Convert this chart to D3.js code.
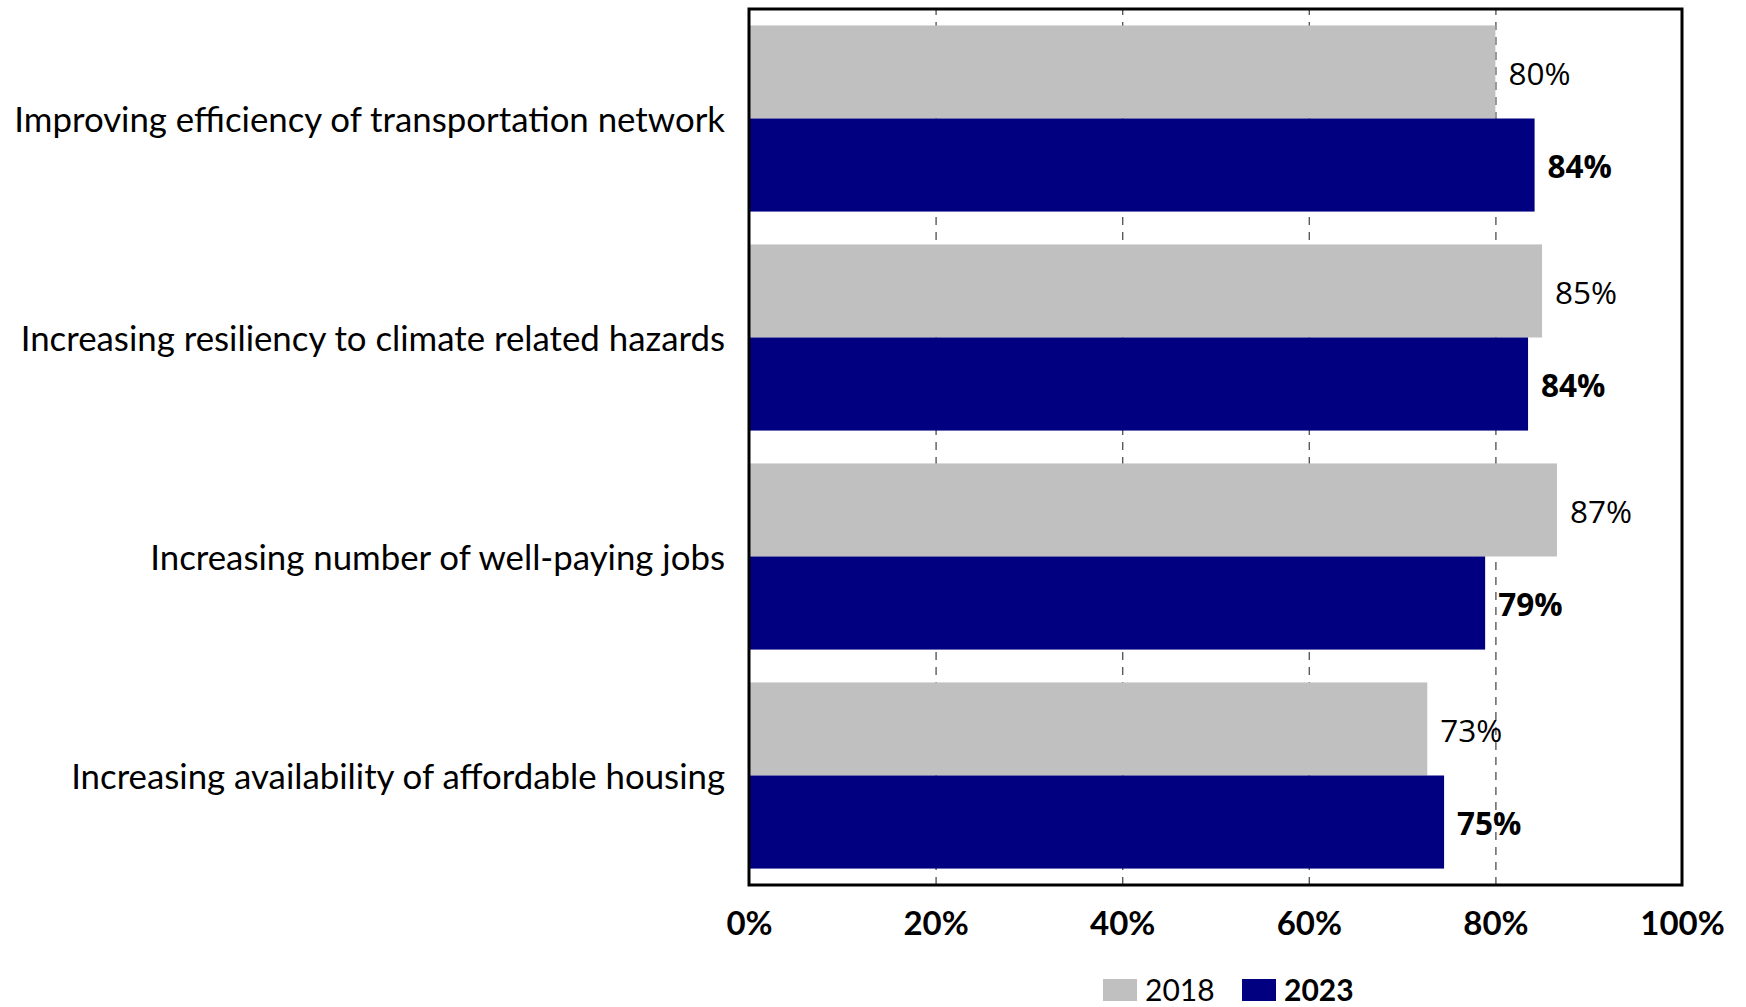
<!DOCTYPE html>
<html>
<head>
<meta charset="utf-8">
<script src="https://cdn.jsdelivr.net/npm/d3@7"></script>
<style>
  html, body { margin: 0; padding: 0; background: #ffffff; }
  svg { display: block; }
</style>
</head>
<body>
<svg id="chart" width="1746" height="1007"></svg>
<script>
// ---- data ----
const categories = [
  "Improving efficiency of transportation network",
  "Increasing resiliency to climate related hazards",
  "Increasing number of well-paying jobs",
  "Increasing availability of affordable housing"
];
const seriesNames = ["2018", "2023"];
const values2018 = [80.0, 85.0, 86.6, 72.7];
const values2023 = [84.2, 83.5, 78.9, 74.5];
const xTickValues = [0, 20, 40, 60, 80, 100];
const gridTickValues = [20, 40, 60, 80];

// ---- layout / style ----
const W = 1746, H = 1007;
const plot = { left: 749, right: 1682, top: 9, bottom: 885 };
const colors = { "2018": "#c0c0c0", "2023": "#000080" };
const catFont = "Lato, 'Open Sans', sans-serif";
const lblFont = "'Open Sans', 'Noto Sans', sans-serif";

const svg = d3.select("#chart");
svg.append("rect").attr("width", W).attr("height", H).attr("fill", "#fff");

const x = d3.scaleLinear().domain([0, 100]).range([plot.left, plot.right]);
const y = d3.scaleBand().domain(categories).range([plot.top, plot.bottom])
  .paddingInner(0.15).paddingOuter(0.075);
const ySub = d3.scaleBand().domain(seriesNames).range([0, y.bandwidth()]);

// gridlines
const grid = svg.append("g")
  .attr("transform", `translate(0,${plot.bottom})`)
  .call(d3.axisBottom(x).tickValues(gridTickValues)
    .tickSize(-(plot.bottom - plot.top)).tickFormat(""));
grid.select(".domain").remove();
grid.selectAll(".tick line")
  .attr("stroke", "#5a5a5a").attr("stroke-width", 1.4)
  .attr("stroke-dasharray", "8,7");

// bars
const rows = categories.map((c, i) => ({ cat: c, vals: { "2018": values2018[i], "2023": values2023[i] } }));
const groups = svg.append("g").selectAll("g").data(rows).join("g")
  .attr("transform", d => `translate(0,${y(d.cat)})`);

groups.selectAll("rect").data(d => seriesNames.map(s => ({ s, v: d.vals[s] })))
  .join("rect")
  .attr("x", x(0))
  .attr("y", d => ySub(d.s))
  .attr("width", d => x(d.v) - x(0))
  .attr("height", ySub.bandwidth())
  .attr("fill", d => colors[d.s]);

// data labels
const lblSize = 31.5;
groups.selectAll("text.val").data(d => seriesNames.map(s => ({ s, v: d.vals[s] })))
  .join("text")
  .attr("class", "val")
  .attr("x", d => x(d.v) + 13)
  .attr("y", d => ySub(d.s) + ySub.bandwidth() / 2 + lblSize * 0.357 + 2)
  .attr("font-family", lblFont)
  .attr("font-size", lblSize)
  .attr("font-weight", d => d.s === "2023" ? 700 : 400)
  .attr("fill", "#000")
  .text(d => Math.round(d.v) + "%");

// category labels
const catSize = 34.8;
svg.append("g").selectAll("text").data(categories).join("text")
  .attr("x", 725)
  .attr("y", d => y(d) + y.bandwidth() / 2 + 13)
  .attr("text-anchor", "end")
  .attr("font-family", catFont)
  .attr("font-size", catSize)
  .attr("fill", "#000")
  .text(d => d);

// plot border
svg.append("rect")
  .attr("x", plot.left).attr("y", plot.top)
  .attr("width", plot.right - plot.left).attr("height", plot.bottom - plot.top)
  .attr("fill", "none").attr("stroke", "#000").attr("stroke-width", 3);

// x axis labels
const xAxis = svg.append("g")
  .attr("transform", `translate(0,${plot.bottom})`)
  .call(d3.axisBottom(x).tickValues(xTickValues).tickSize(0).tickFormat(d => d + "%"));
xAxis.select(".domain").remove();
xAxis.selectAll(".tick text")
  .attr("y", 50).attr("dy", 0)
  .attr("font-family", catFont)
  .attr("font-size", 33)
  .attr("font-weight", 700)
  .attr("fill", "#000");

// legend
const legend = svg.append("g");
const legendItems = [
  { s: "2018", rx: 1103, tx: 1145, weight: 400 },
  { s: "2023", rx: 1242, tx: 1284, weight: 700 }
];
legendItems.forEach(it => {
  legend.append("rect").attr("x", it.rx).attr("y", 979).attr("width", 34).attr("height", 22)
    .attr("fill", colors[it.s]);
  legend.append("text").attr("x", it.tx).attr("y", 1001)
    .attr("font-family", catFont).attr("font-size", 30).attr("font-weight", it.weight)
    .attr("fill", "#000").text(it.s);
});
</script>
</body>
</html>
